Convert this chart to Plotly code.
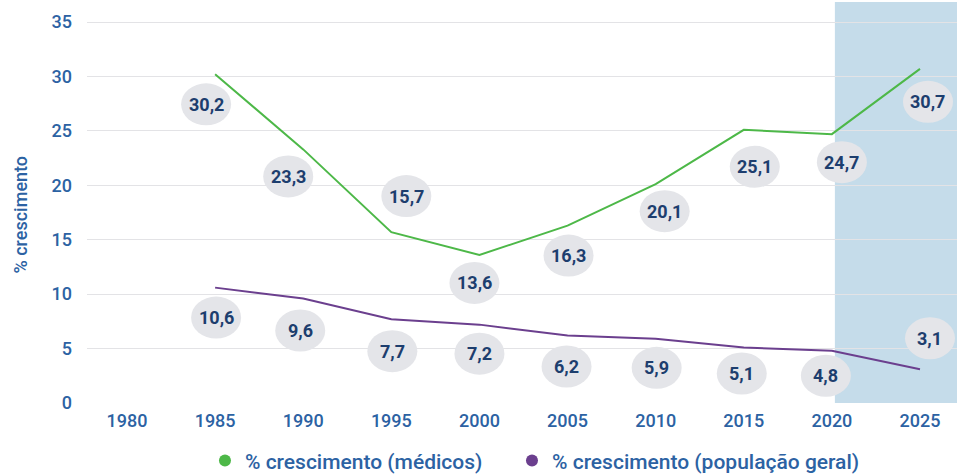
import plotly.graph_objects as go

years = [1985, 1990, 1995, 2000, 2005, 2010, 2015, 2020, 2025]
tick_years = [1980, 1985, 1990, 1995, 2000, 2005, 2010, 2015, 2020, 2025]
medicos = [30.2, 23.3, 15.7, 13.6, 16.3, 20.1, 25.1, 24.7, 30.7]
populacao = [10.6, 9.6, 7.7, 7.2, 6.2, 5.9, 5.1, 4.8, 3.1]
y_ticks = [0, 5, 10, 15, 20, 25, 30, 35]
name_med = "% crescimento (médicos)"
name_pop = "% crescimento (população geral)"
y_title = "% crescimento"

# label bubble offsets in pixels (dx right, dy down)
med_dx = [-9, -15, 15, -5, 1, 9, 11, 10, 8]
med_dy = [30, 27, -36, 28, 30, 27, 37, 28, 33]
pop_dx = [1, -3, 1, 0, -1, 1, -2, -6, 10]
pop_dy = [30, 32, 32, 29, 31, 29, 26, 25, -31]

GREEN = "#4db848"
PURPLE = "#6b3f8e"
TICK = "#2c62a3"
LABEL = "#1d3e6e"
BUBBLE = "#e4e5e9"
SHADE = "#c5dcea"
FONT = "Roboto"

fig = go.Figure()
fig.add_trace(go.Scatter(x=years, y=medicos, mode="lines", showlegend=False,
                         line=dict(color=GREEN, width=2)))
fig.add_trace(go.Scatter(x=years, y=populacao, mode="lines", showlegend=False,
                         line=dict(color=PURPLE, width=2)))
for nm, col, lg in [(name_med, GREEN, "legend"), (name_pop, PURPLE, "legend2")]:
    fig.add_trace(go.Scatter(x=[None], y=[None], mode="markers", name=nm, legend=lg,
                             marker=dict(color=col, size=14, symbol="circle")))

fmt = lambda v: f"{v:.1f}".replace(".", ",")
shapes = [dict(type="rect", xref="x", yref="paper", x0=2020.17, x1=2030, y0=0, y1=1,
               fillcolor=SHADE, line=dict(width=0), layer="below")]
annotations = []
BW, BH = 50, 42
for vals, dxs, dys in [(medicos, med_dx, med_dy), (populacao, pop_dx, pop_dy)]:
    for x, v, dx, dy in zip(years, vals, dxs, dys):
        shapes.append(dict(type="circle", xref="x", yref="y",
                           xsizemode="pixel", ysizemode="pixel",
                           xanchor=x, yanchor=v,
                           x0=dx - BW / 2, x1=dx + BW / 2,
                           y0=-dy - BH / 2, y1=-dy + BH / 2,
                           fillcolor=BUBBLE, line=dict(width=0), layer="above"))
        annotations.append(dict(x=x, y=v, xref="x", yref="y", text=f"<b>{fmt(v)}</b>",
                                showarrow=False, xshift=dx, yshift=-dy,
                                font=dict(family=FONT, size=18, color=LABEL)))

# y-axis title
annotations.append(dict(x=0, y=0.5, xref="paper", yref="paper", text=y_title,
                        textangle=-90, showarrow=False, xanchor="center", yanchor="middle",
                        xshift=-67, yshift=-12,
                        font=dict(family=FONT, size=18, color=TICK, weight=500)))

legend_font = dict(family=FONT, size=21, color=TICK, weight=500)
fig.update_layout(
    width=957, height=474,
    margin=dict(l=87, r=0, t=2, b=71, autoexpand=False),
    paper_bgcolor="white", plot_bgcolor="white",
    font=dict(family=FONT, size=18, color=TICK),
    showlegend=True,
    legend=dict(orientation="h", x=0.1356, xanchor="left", y=-0.144, yanchor="middle",
                font=legend_font, itemsizing="constant", bgcolor="rgba(0,0,0,0)"),
    legend2=dict(orientation="h", x=0.4885, xanchor="left", y=-0.144, yanchor="middle",
                 font=legend_font, itemsizing="constant", bgcolor="rgba(0,0,0,0)"),
    shapes=shapes, annotations=annotations,
    xaxis=dict(range=[1977.73, 2027.1], tickmode="array", tickvals=tick_years,
               ticktext=[str(t) for t in tick_years], showgrid=False, zeroline=False,
               showline=False, automargin=False,
               tickfont=dict(family=FONT, size=18, color=TICK, weight=500),
               ticklabelstandoff=5),
    yaxis=dict(range=[0, 36.84], tickmode="array", tickvals=y_ticks,
               showgrid=True, gridcolor="#e3e3e6", gridwidth=1, zeroline=False,
               showline=False, automargin=False,
               tickfont=dict(family=FONT, size=18, color=TICK, weight=500),
               ticklabelstandoff=14),
)
fig.write_html("out.html", config={"displayModeBar": False},
               post_script="document.body.style.margin='0';document.body.style.overflow='hidden';")
